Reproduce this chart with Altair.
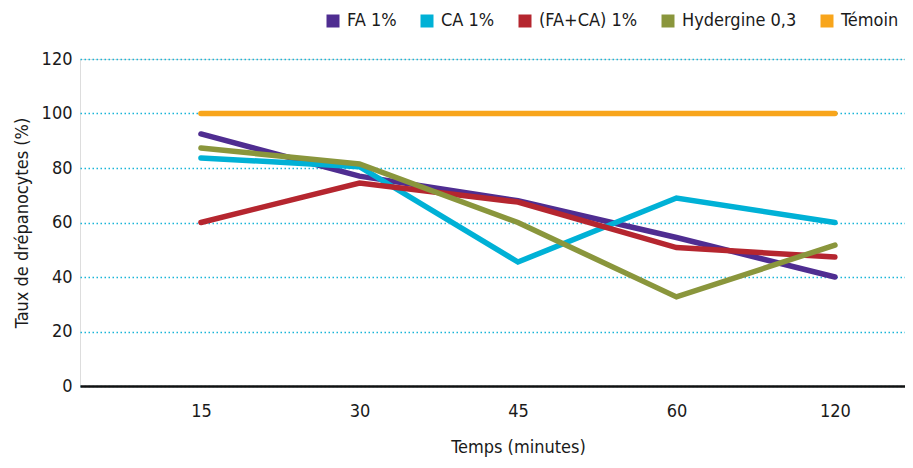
import altair as alt
import pandas as pd

times = ["15", "30", "45", "60", "120"]
series = ["FA 1%", "CA 1%", "(FA+CA) 1%", "Hydergine 0,3", "Témoin"]
colors = ["#4f2d91", "#00b1d6", "#b5262f", "#8a963c", "#f8a51b"]

fa = [92.5, 77, 68, 54.5, 40]
ca = [83.7, 80.5, 45.5, 69, 60]
faca = [60, 74.5, 67.5, 50.8, 47.3]
hyd = [87.3, 81.5, 60, 32.7, 51.7]
temoin = [100, 100, 100, 100, 100]

values = [fa, ca, faca, hyd, temoin]
rows = []
for s, vals in zip(series, values):
    for i, (t, v) in enumerate(zip(times, vals)):
        rows.append({"serie": s, "idx": i, "temps": t, "taux": v})
df = pd.DataFrame(rows)

FONT = "DejaVu Sans Condensed, sans-serif"
label_expr = "[" + ",".join("'%s'" % t for t in times) + "][datum.value]"

chart = alt.Chart(df).mark_line(strokeWidth=5.5, strokeCap="round", strokeJoin="miter").encode(
    x=alt.X("idx:Q",
            scale=alt.Scale(domain=[-0.763, 4.442], nice=False, zero=False),
            axis=alt.Axis(values=list(range(len(times))), labelExpr=label_expr,
                          title="Temps (minutes)", grid=False, ticks=False,
                          domainColor="#111111", domainWidth=2.5,
                          labelPadding=16, labelFontSize=18, labelFont=FONT, labelColor="#1a1a1a",
                          titleFontSize=18, titleFont=FONT, titleFontWeight="normal", titleColor="#1a1a1a",
                          titleX=438, titleY=61, titleBaseline="middle")),
    y=alt.Y("taux:Q",
            scale=alt.Scale(domain=[0, 120], nice=False),
            axis=alt.Axis(values=[0, 20, 40, 60, 80, 100, 120], title="Taux de drépanocytes (%)",
                          domain=False, ticks=False, grid=True, gridColor="#19b5d8",
                          gridDash=[1.5, 2.5], gridWidth=1.4,
                          labelPadding=8, labelFontSize=18, labelFont=FONT, labelColor="#1a1a1a",
                          titleFontSize=18, titleFont=FONT, titleFontWeight="normal", titleColor="#1a1a1a",
                          titlePadding=10)),
    color=alt.Color("serie:N",
                    scale=alt.Scale(domain=series, range=colors),
                    legend=alt.Legend(title=None, orient="none", direction="horizontal",
                                      legendX=244, legendY=-47, padding=0,
                                      symbolType="square", symbolSize=36, symbolStrokeWidth=7,
                                      symbolOpacity=1,
                                      labelFontSize=18, labelFont=FONT, labelColor="#1a1a1a",
                                      labelOffset=5, columnPadding=13)),
    order=alt.Order("idx:Q"),
).properties(
    width=825, height=327,
    autosize=alt.AutoSizeParams(type="none"),
    padding={"left": 72, "top": 51, "right": 0, "bottom": 74},
).configure_view(stroke=None).configure(background="white")

chart.save("out.html", embed_options={"renderer": "svg", "actions": False})
